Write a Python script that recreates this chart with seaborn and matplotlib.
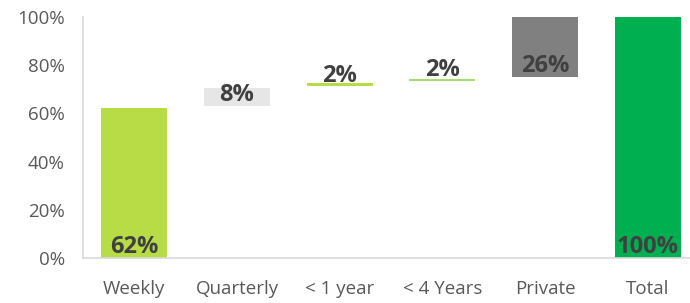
import matplotlib
matplotlib.use("Agg")
import matplotlib.pyplot as plt
import seaborn as sns

# ── Data (percent) ───────────────────────────────────────────
categories = ["Weekly", "Quarterly", "< 1 year", "< 4 Years", "Private", "Total"]
bar_bottoms = [0, 63.1, 71.2, 73.6, 75.0, 0]
bar_tops = [62.2, 70.4, 72.6, 74.4, 100, 100]
labels = ["62%", "8%", "2%", "2%", "26%", "100%"]
colors = ["#b7dc45", "#e6e6e6", "#b7dc45", "#a9dd72", "#808080", "#00b050"]
y_ticks = [0, 20, 40, 60, 80, 100]

heights = [t - b for t, b in zip(bar_tops, bar_bottoms)]

sns.set_style("white")
plt.rcParams["font.family"] = ["Open Sans", "DejaVu Sans"]

fig = plt.figure(figsize=(6.9, 3.03), dpi=100)
ax = fig.add_axes([83 / 690, 45 / 303, 616 / 690, 241 / 303])

sns.barplot(x=categories, y=heights, bottom=bar_bottoms, order=categories,
            color="#b7dc45", width=0.64, linewidth=0, ax=ax)
for patch, c in zip(ax.patches, colors):
    patch.set_facecolor(c)

# value labels sit just above the base of each bar
for i, (b, lab) in enumerate(zip(bar_bottoms, labels)):
    ax.text(i, b + 2.0, lab, ha="center", va="baseline",
            fontsize=17, fontweight="bold", color="#404040")

ax.set_ylim(0, 100)
ax.set_xlim(-0.5, len(categories) - 0.5)
ax.set_yticks(y_ticks)
ax.set_yticklabels([f"{v}%" for v in y_ticks])
ax.tick_params(axis="y", length=0, pad=13, labelsize=13.5, labelcolor="#595959")
ax.tick_params(axis="x", length=0, pad=16, labelsize=13.5, labelcolor="#595959")
ax.set_xlabel("")
ax.set_ylabel("")

for side in ["top", "right"]:
    ax.spines[side].set_visible(False)
for side in ["left", "bottom"]:
    ax.spines[side].set_color("#d9d9d9")
    ax.spines[side].set_linewidth(1.2)

plt.savefig("out.png", dpi=100)
plt.close()
